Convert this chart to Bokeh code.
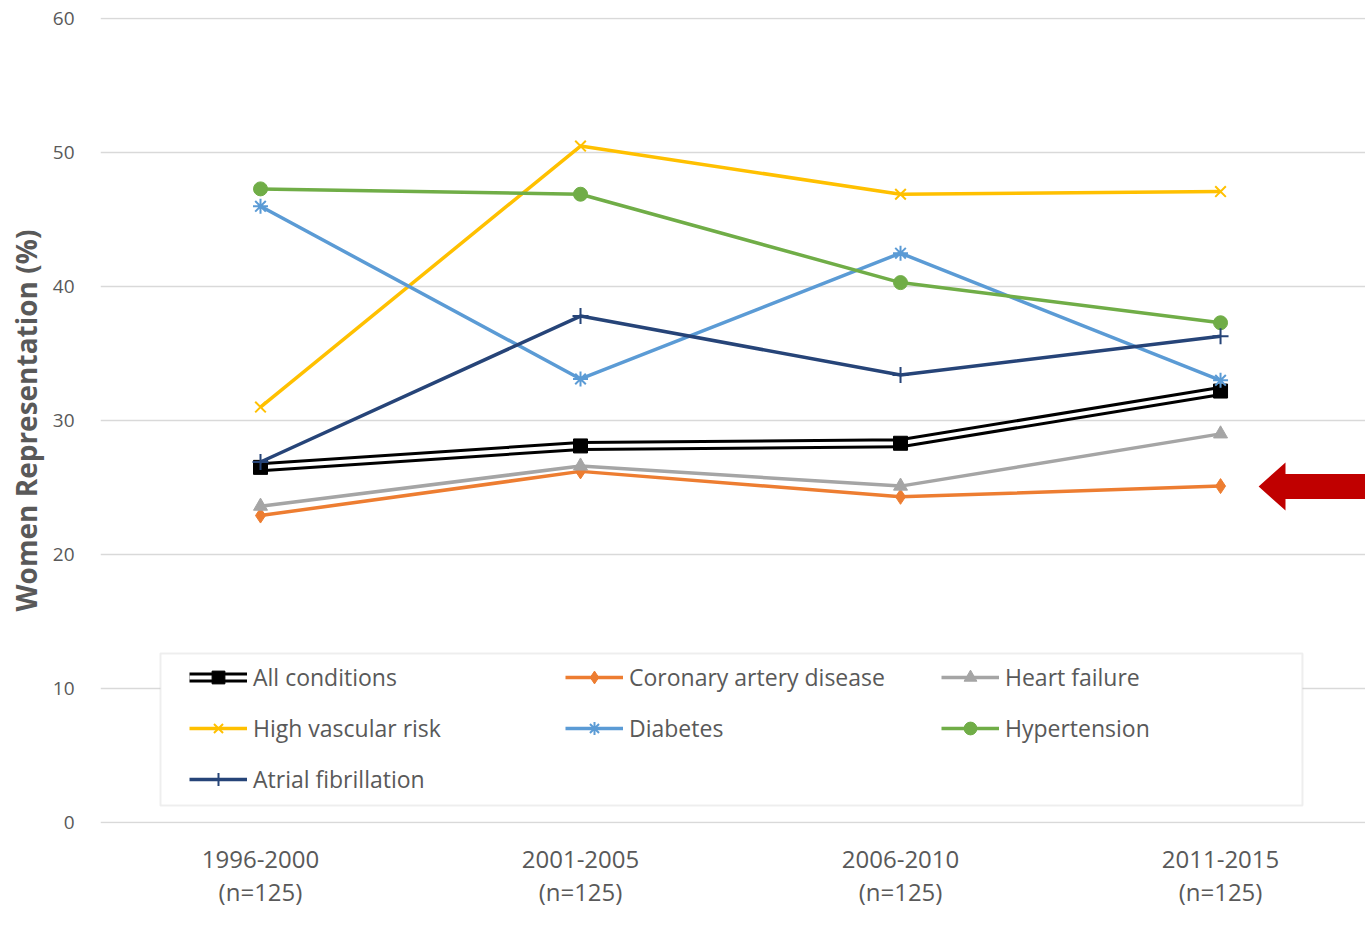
from bokeh.plotting import figure
from bokeh.models import Range1d, FixedTicker, Legend, LegendItem, Label, PolyAnnotation, BoxAnnotation
from bokeh.embed import file_html
from bokeh.resources import INLINE

# ---- data ----
periods = ["1996-2000", "2001-2005", "2006-2010", "2011-2015"]
n_labels = ["(n=125)", "(n=125)", "(n=125)", "(n=125)"]
all_conditions = [26.5, 28.1, 28.3, 32.2]
coronary = [22.9, 26.2, 24.3, 25.1]
heart_failure = [23.6, 26.6, 25.1, 29.0]
high_vascular = [31.0, 50.5, 46.9, 47.1]
diabetes = [46.0, 33.1, 42.5, 33.0]
hypertension = [47.3, 46.9, 40.3, 37.3]
atrial_fib = [26.9, 37.8, 33.4, 36.3]
y_ticks = [0, 10, 20, 30, 40, 50, 60]

xs = list(range(len(periods)))
TXT = "#595959"
FONT = "Open Sans"

p = figure(width=1365, height=951, output_backend="svg", toolbar_location=None,
           x_range=Range1d(-0.5, 3.453), y_range=Range1d(-0.1, 60.1),
           min_border_left=100, min_border_right=0, min_border_top=17, min_border_bottom=128)
p.outline_line_color = None
p.background_fill_color = "white"

# axes
p.xaxis.ticker = FixedTicker(ticks=xs)
p.xaxis.major_label_overrides = {i: f"{a}\n{b}" for i, a, b in zip(xs, periods, n_labels)}
p.xaxis.axis_line_color = None
p.xaxis.major_tick_line_color = None
p.xaxis.minor_tick_line_color = None
p.xaxis.major_label_standoff = 12
p.xaxis.major_label_text_font = FONT
p.xaxis.major_label_text_font_size = "24px"
p.xaxis.major_label_text_color = TXT
p.xaxis.major_label_text_line_height = 1.0

p.yaxis.ticker = FixedTicker(ticks=y_ticks)
p.yaxis.axis_line_color = None
p.yaxis.major_tick_line_color = None
p.yaxis.minor_tick_line_color = None
p.yaxis.major_label_standoff = 20
p.yaxis.major_label_text_font = FONT
p.yaxis.major_label_text_font_size = "19px"
p.yaxis.major_label_text_color = TXT
p.yaxis.axis_label = "Women Representation (%)"
p.yaxis.axis_label_text_font = FONT
p.yaxis.axis_label_text_font_size = "28px"
p.yaxis.axis_label_text_font_style = "bold"
p.yaxis.axis_label_text_color = TXT
p.yaxis.axis_label_standoff = 5

p.xgrid.grid_line_color = None
p.ygrid.grid_line_color = "#d9d9d9"
p.ygrid.grid_line_width = 1.5

# legend frame (white box with grey border)
p.add_layout(BoxAnnotation(left=-0.3125, right=3.256, bottom=1.25, top=12.6,
                           fill_color="white", fill_alpha=1,
                           line_color="#c8c8c8", line_width=2, level="annotation"))

# series
items = []

r1 = p.line(xs, all_conditions, line_color="black", line_width=10)
r2 = p.line(xs, all_conditions, line_color="white", line_width=4)
r3 = p.scatter(xs, all_conditions, marker="square", size=14, color="black")
items.append(LegendItem(label="All conditions", renderers=[r1, r2, r3]))

def series(vals, color, marker, label, size=14, lw=3.5):
    rl = p.line(xs, vals, line_color=color, line_width=lw)
    if marker in ("x", "asterisk", "cross"):
        rm = p.scatter(xs, vals, marker=marker, size=size, line_color=color, line_width=2)
    else:
        rm = p.scatter(xs, vals, marker=marker, size=size, fill_color=color, line_color=color)
    items.append(LegendItem(label=label, renderers=[rl, rm]))

series(coronary, "#ED7D31", "diamond", "Coronary artery disease", size=15)
series(heart_failure, "#A5A5A5", "triangle", "Heart failure", size=14)
series(high_vascular, "#FFC000", "x", "High vascular risk", size=15)
series(diabetes, "#5B9BD5", "asterisk", "Diabetes", size=15)
series(hypertension, "#70AD47", "circle", "Hypertension", size=14)
series(atrial_fib, "#264478", "cross", "Atrial fibrillation", size=16)

legend = Legend(items=items, orientation="horizontal", ncols=3,
                location=(89, 28), margin=0, padding=0, spacing=19,
                glyph_width=58, glyph_height=32, label_height=32, label_width=293,
                label_standoff=6,
                label_text_font=FONT, label_text_font_size="23px", label_text_color=TXT,
                border_line_color=None, background_fill_alpha=0)
p.add_layout(legend)

# red arrow pointing at coronary artery disease, 2011-2015
arrow = PolyAnnotation(xs=[3.119, 3.203, 3.203, 3.453, 3.453, 3.203, 3.203],
                       ys=[25.07, 26.86, 26.0, 26.0, 24.14, 24.14, 23.28],
                       fill_color="#C00000", fill_alpha=1, line_color=None)
p.add_layout(arrow)

# x axis title and source
p.add_layout(Label(x=1.5, y=-110, x_units="data", y_units="screen", text="Time Period",
                   text_font=FONT, text_font_size="26px", text_font_style="bold",
                   text_color=TXT, text_align="center", text_baseline="middle"))
p.add_layout(Label(x=-100, y=-112, x_units="screen", y_units="screen",
                   text=": Cardiovasc Qual Outcomes. 2018",
                   text_font="Liberation Sans Narrow", text_font_size="21px", text_font_style="bold",
                   text_color="#1F6C9C", text_align="left", text_baseline="middle"))

open("out.html", "w").write(file_html(p, INLINE))
